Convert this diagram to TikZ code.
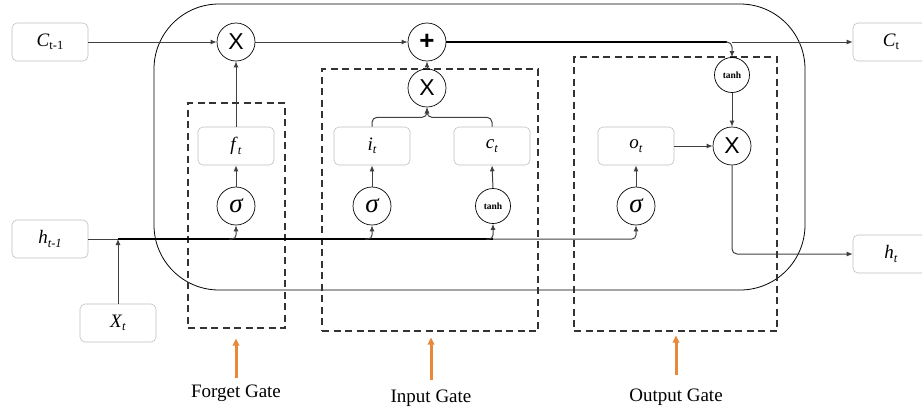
\documentclass[tikz,border=0pt]{standalone}
\usepackage{fontspec}
\setmainfont{Liberation Serif}
\newfontfamily\lsans{Liberation Sans}
\usetikzlibrary{arrows.meta}
\newcommand\sublab[2]{{\fontsize{19}{19}\selectfont #1}\raisebox{-3.5pt}{\fontsize{12.5}{12.5}\selectfont #2}}
\newcommand\opX{{\lsans\fontsize{23}{23}\selectfont X}}
\newcommand\opS{{\fontsize{27}{27}\selectfont\itshape σ}}
\newcommand\opT{{\bfseries\fontsize{9.5}{9.5}\selectfont tanh}}
\begin{document}
\begin{tikzpicture}[x=1pt,y=-1pt,
  box/.style={draw=black!25, rounded corners=5pt, minimum width=76pt, minimum height=38pt, inner sep=0pt, line width=0.6pt},
  op/.style={draw, circle, minimum size=38pt, inner sep=0pt, line width=0.7pt},
  smallop/.style={draw, circle, minimum size=35pt, inner sep=0pt, line width=0.7pt},
  gatebox/.style={draw=black!80, dash pattern=on 7pt off 4.5pt, line width=1.1pt, inner sep=0pt},
  conn/.style={draw=black!75, line width=1pt, -{Latex[length=6pt,width=5pt]}},
  plain/.style={draw=black!75, line width=1pt},
  heavy/.style={draw=black, line width=2pt},
  oarrow/.style={draw={rgb,255:red,232;green,136;blue,58}, line width=3pt, -{Triangle[length=7pt,width=6.5pt]}},
  gatelabel/.style={font=\fontsize{19}{19}\selectfont}
]
\useasboundingbox (0,0) rectangle (922,416);

% outer cell
\node[draw, line width=0.8pt, rounded corners=65pt, minimum width=651pt, minimum height=286pt] (cell) at (479.5,147) {};

% gate boxes
\node[gatebox, minimum width=97pt, minimum height=225pt] (fg) at (236.5,215.5) {};
\node[gatebox, minimum width=216pt, minimum height=262pt] (ig) at (430,200) {};
\node[gatebox, minimum width=203pt, minimum height=274pt] (og) at (675.5,194) {};

% input/output boxes
\node[box] (cprev) at (50,42) {\sublab{\textit{C}}{t-1}};
\node[box] (hprev) at (50,239) {\sublab{\textit{h}}{\textit{t-1}}};
\node[box] (xt) at (118,323) {\sublab{\textit{X}}{\textit{t}}};
\node[box] (ct) at (891,42) {\sublab{\textit{C}}{t}};
\node[box] (ht) at (891,254) {\sublab{\textit{h}}{\textit{t}}};

% internal boxes
\node[box] (ft) at (236,146) {\sublab{\textit{f}}{\textit{t}}};
\node[box] (it) at (372,146) {\sublab{\textit{i}}{\textit{t}}};
\node[box] (cct) at (492,146) {\sublab{\textit{c}}{\textit{t}}};
\node[box] (ot) at (636,146) {\sublab{\textit{o}}{\textit{t}}};

% operators
\node[op] (mulf) at (236,42) {\opX};
\node[op] (plus) at (427,42) {{\lsans\bfseries\fontsize{26}{26}\selectfont +}};
\node[op] (muli) at (427,88) {\opX};
\node[op] (sigf) at (236,206) {\opS};
\node[op] (sigi) at (372,206) {\opS};
\node[smallop] (tanhi) at (493,206) {\opT};
\node[op] (sigo) at (636,206) {\opS};
\node[smallop] (tanho) at (732,75) {\opT};
\node[op] (mulo) at (732,146) {\opX};

% cell state line
\draw[conn] (cprev.east) -- (mulf.west);
\draw[conn] (mulf.east) -- (plus.west);
\coordinate (cj) at (tanho.north |- plus.east);
\draw[heavy, line width=1.6pt] (plus.east) -- ([xshift=-5pt]cj);
\draw[conn, rounded corners=5pt] ([xshift=-6pt]cj) -| (tanho.north);
\draw[conn] (cj) -- (ct.west);

% forget gate
\draw[conn] (ft.north) -- (mulf.south);
\draw[conn] (sigf.north) -- (ft.south);

% input gate
\draw[conn] (sigi.north) -- (it.south);
\draw[conn] (tanhi.north) -- (cct.south);
\draw[conn, rounded corners=5pt] (it.north) |- ([yshift=-10pt]muli.south) -- (muli.south);
\draw[conn, rounded corners=5pt] (cct.north) |- ([yshift=-10pt]muli.south) -- (muli.south);
\draw[conn] (muli.north) -- (plus.south);

% output gate
\draw[conn] (sigo.north) -- (ot.south);
\draw[conn] (ot.east) -- (mulo.west);
\draw[conn] (tanho.south) -- (mulo.north);
\draw[conn, rounded corners=5pt] (mulo.south) |- (ht.west);

% hidden/input line
\coordinate (hj) at (xt.north |- hprev.east);
\coordinate (hk) at (tanhi.south |- hprev.east);
\draw[plain] (hprev.east) -- (hj);
\draw[conn] (xt.north) -- (hj);
\draw[heavy] (hj) -- (hk);
\draw[conn, rounded corners=4pt] ([xshift=-7pt]sigf.south |- hk) -| (sigf.south);
\draw[conn, rounded corners=4pt] ([xshift=-7pt]sigi.south |- hk) -| (sigi.south);
\draw[conn, rounded corners=4pt] ([xshift=-7pt]hk) -| (tanhi.south);
\draw[conn, rounded corners=4pt] (hk) -| (sigo.south);

% gate labels
\node[gatelabel] (fgl) at (236,393) {Forget Gate};
\node[gatelabel] (igl) at (431,398) {Input Gate};
\node[gatelabel] (ogl) at (676,397) {Output Gate};
\coordinate (fa) at (236,378);
\coordinate (ia) at (431,380);
\coordinate (oa) at (676,375);
\draw[oarrow] (fa) -- ([yshift=-10pt]fa |- fg.south);
\draw[oarrow] (ia) -- ([yshift=-6pt]ia |- ig.south);
\draw[oarrow] (oa) -- ([yshift=-4pt]oa |- og.south);
\end{tikzpicture}
\end{document}
